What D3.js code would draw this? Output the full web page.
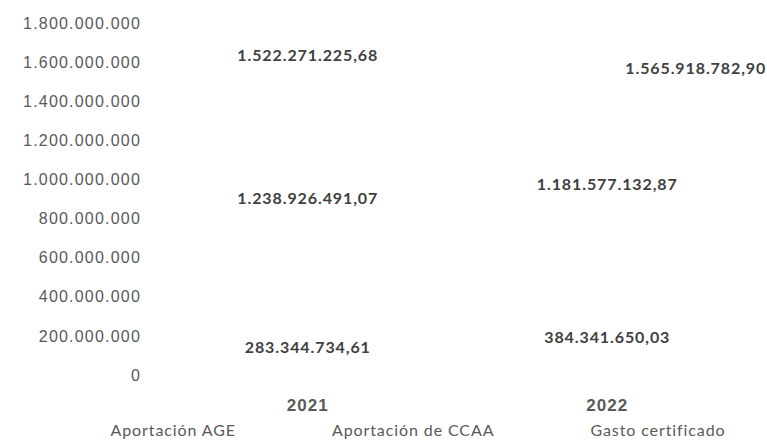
<!DOCTYPE html>
<html>
<head>
<meta charset="utf-8">
<script src="https://cdn.jsdelivr.net/npm/d3@7"></script>
<style>
  body { margin: 0; background: #fff; }
  svg { font-family: Lato, "Open Sans", sans-serif; }
</style>
</head>
<body>
<div id="chart"></div>
<script>
// données
const years = ["2021", "2022"];
const aportacionAGE = [283344734.61, 384341650.03];
const aportacionCCAA = [1238926491.07, 1181577132.87];
const gastoCertificado = [1522271225.68, 1565918782.90];
const seriesNames = ["Aportación AGE", "Aportación de CCAA", "Gasto certificado"];
const yTicks = [0, 200000000, 400000000, 600000000, 800000000, 1000000000, 1200000000, 1400000000, 1600000000, 1800000000];

const locale = d3.formatLocale({ decimal: ",", thousands: ".", grouping: [3], currency: ["", "€"] });
const fmtTick = locale.format(",.0f");
const fmtVal = locale.format(",.2f");

const width = 767, height = 448;
const svg = d3.select("#chart").append("svg")
  .attr("width", width).attr("height", height);

const x = d3.scaleBand().domain(years).range([158, 757]);
const y = d3.scaleLinear().domain([0, 1800000000]).range([375, 23]);

// axe Y
const yAxis = svg.append("g")
  .attr("transform", "translate(158,0)")
  .call(d3.axisLeft(y).tickValues(yTicks).tickFormat(fmtTick).tickSize(0).tickPadding(17));
yAxis.select(".domain").remove();
yAxis.selectAll("text").attr("fill", "#595959")
  .style("font-size", "16px").style("letter-spacing", "1.2px");

// axe X (années)
const xAxis = svg.append("g")
  .attr("transform", "translate(0,375)")
  .call(d3.axisBottom(x).tickSize(0).tickPadding(24));
xAxis.select(".domain").remove();
xAxis.selectAll("text").attr("fill", "#595959")
  .style("font-size", "17px").style("font-weight", "bold").style("letter-spacing", "1px");

// barres empilées (invisibles comme dans l'original)
const rows = years.map((yr, i) => ({ year: yr, age: aportacionAGE[i], ccaa: aportacionCCAA[i], gasto: gastoCertificado[i] }));
const stack = d3.stack().keys(["age", "ccaa"])(rows);
const bw = x.bandwidth() * 0.45;

const layers = svg.selectAll(".layer").data(stack).enter().append("g").attr("class", "layer");
layers.selectAll("rect").data(d => d).enter().append("rect")
  .attr("x", d => x(d.data.year) + (x.bandwidth() - bw) / 2)
  .attr("y", d => y(d[1]))
  .attr("width", bw)
  .attr("height", d => y(d[0]) - y(d[1]))
  .attr("fill", "none");

// étiquettes des segments (au milieu de chaque segment)
layers.selectAll("text").data(d => d).enter().append("text")
  .attr("x", d => x(d.data.year) + x.bandwidth() / 2)
  .attr("y", d => y((d[0] + d[1]) / 2))
  .attr("dy", "0.35em")
  .attr("text-anchor", "middle")
  .attr("fill", "#404040")
  .style("font-size", "16px")
  .style("font-weight", "bold")
  .style("letter-spacing", "0.9px")
  .text(d => fmtVal(d[1] - d[0]));

// ligne du total (invisible) + étiquettes
const line = d3.line().x(d => x(d.year) + x.bandwidth() / 2).y(d => y(d.gasto));
svg.append("path").datum(rows).attr("d", line).attr("fill", "none").attr("stroke", "none");

svg.selectAll(".gasto-label").data(rows).enter().append("text")
  .attr("class", "gasto-label")
  .attr("x", (d, i) => x(d.year) + x.bandwidth() / 2 + (i === 0 ? 0 : 18))
  .attr("y", (d, i) => y(d.gasto) - (i === 0 ? 22 : 0))
  .attr("dy", "0.35em")
  .attr("text-anchor", (d, i) => i === 0 ? "middle" : "start")
  .attr("fill", "#404040")
  .style("font-size", "16px")
  .style("font-weight", "bold")
  .style("letter-spacing", "0.9px")
  .text(d => fmtVal(d.gasto));

// légende (sans symboles visibles)
const legend = svg.append("g").attr("transform", "translate(0,436)");
const items = legend.selectAll("text").data(seriesNames).enter().append("text")
  .attr("fill", "#595959")
  .style("font-size", "16px")
  .style("letter-spacing", "0.9px")
  .text(d => d);
const gap = 96;
const widths = items.nodes().map(n => n.getComputedTextLength());
const total = d3.sum(widths) + gap * (widths.length - 1);
let cx = 418 - total / 2;
items.attr("x", (d, i) => {
  const pos = cx;
  cx += widths[i] + gap;
  return pos;
});
</script>
</body>
</html>
